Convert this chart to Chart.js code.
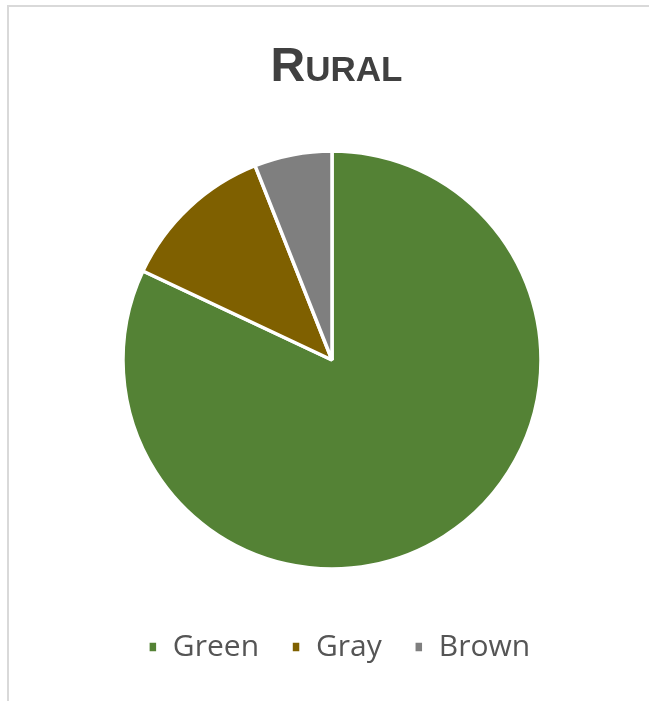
<!DOCTYPE html>
<html>
<head>
<meta charset="utf-8">
<script src="https://cdn.jsdelivr.net/npm/chart.js@4/dist/chart.umd.min.js"></script>
<style>
  html, body { margin:0; padding:0; background:#fff; }
  .wrap { position:relative; width:649px; height:701px; overflow:hidden; }
  .frame { position:absolute; left:7px; top:5px; right:-10px; bottom:-10px; border-left:2px solid #d9d9d9; border-top:2px solid #d9d9d9; }
  .ttl { position:absolute; left:0; width:673px; top:41px; text-align:center; font-family:"Liberation Sans", Arial, sans-serif; font-weight:bold; color:#404040; line-height:1; }
  .ttl .big { font-size:48px; }
  .ttl .sm { font-size:35px; }
  canvas { position:absolute; left:0; top:0; }
</style>
</head>
<body>
<div class="wrap">
  <div class="frame"></div>
  <canvas id="chartRural" width="649" height="701"></canvas>
  <div class="ttl"><span class="big">R</span><span class="sm">URAL</span></div>
</div>
<script>
const categories = ['Green', 'Gray', 'Brown'];
const shares = [82, 12, 6];
const sliceColors = ['#548235', '#7f6000', '#7f7f7f'];

// legend sits a little right of the pie centre in the original
const nudgeLegend = {
  id: 'nudgeLegend',
  afterLayout(chart) { chart.legend.left += 7; chart.legend.right += 7; }
};

const ctx = document.getElementById('chartRural');
new Chart(ctx, {
  type: 'pie',
  data: {
    labels: categories,
    datasets: [{ data: shares, backgroundColor: sliceColors, borderColor: '#fff', borderWidth: 3.5, radius: 209 }]
  },
  options: {
    responsive: false,
    animation: false,
    layout: { padding: { top: 152, bottom: 29, left: 15, right: 0 } },
    plugins: {
      tooltip: { enabled: false },
      legend: {
        position: 'bottom',
        title: { display: true, text: '', font: { size: 10 }, padding: { top: 20, bottom: 0 } },
        labels: {
          font: { family: '"Open Sans", sans-serif', size: 30 },
          color: '#555555',
          boxWidth: 10,
          boxHeight: 12,
          padding: 32
        }
      }
    }
  },
  plugins: [nudgeLegend]
});
</script>
</body>
</html>
